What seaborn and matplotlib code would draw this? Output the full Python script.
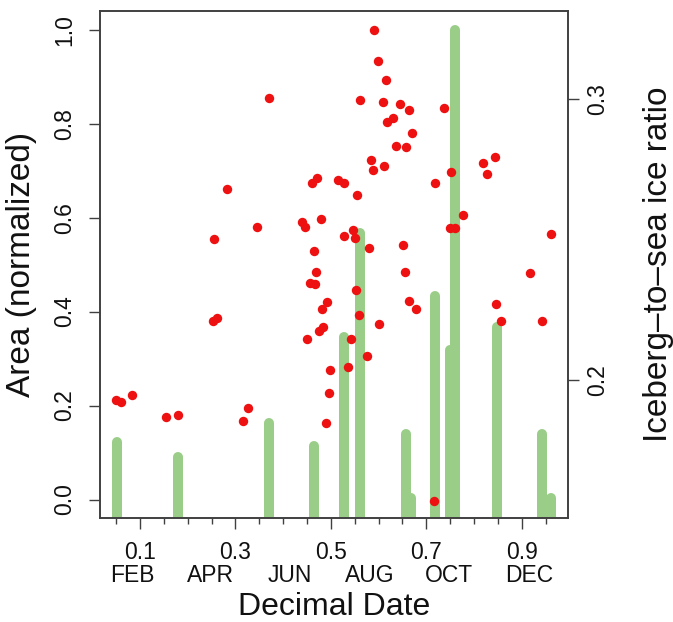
import numpy as np
import pandas as pd
import matplotlib
matplotlib.use("Agg")
import matplotlib.pyplot as plt
from matplotlib.ticker import FixedLocator
import seaborn as sns

# ---- data -------------------------------------------------------------
# green bars: normalized area (left axis)
bar_date = [0.0511, 0.179, 0.3704, 0.4648, 0.528, 0.5612, 0.657, 0.668,
            0.719, 0.750, 0.7604, 0.8478, 0.9434, 0.9616]
bar_area = [0.122, 0.090, 0.162, 0.113, 0.347, 0.567, 0.140, 0.004,
            0.433, 0.318, 1.0, 0.3675, 0.140, 0.004]

# red points: iceberg-to-sea ice ratio (right axis)
pt_date = [0.0497, 0.0595, 0.0832, 0.1539, 0.1790, 0.2558, 0.2537, 0.2608,
           0.2818, 0.3153, 0.3258, 0.3453, 0.3698, 0.4396, 0.4465, 0.4507,
           0.4612, 0.4704, 0.4654, 0.4683, 0.4564, 0.4669, 0.4788, 0.4822,
           0.4927, 0.4753, 0.4843, 0.4983, 0.4956, 0.4899, 0.5157, 0.5283,
           0.5283, 0.5459, 0.5501, 0.5549, 0.5602, 0.5906, 0.5985, 0.6153,
           0.6094, 0.6451, 0.6646, 0.6184, 0.6310, 0.6702, 0.6367, 0.6583,
           0.5849, 0.5885, 0.6122, 0.7174, 0.5795, 0.6514, 0.6545, 0.5528,
           0.6633, 0.6780, 0.5581, 0.6017, 0.5417, 0.5765, 0.5365, 0.7164,
           0.7373, 0.7514, 0.8197, 0.8281, 0.8442, 0.7765, 0.7499, 0.7598,
           0.9616, 0.9176, 0.8457, 0.8562, 0.9428]
pt_ratio = [0.1929, 0.1921, 0.1946, 0.1869, 0.1877, 0.2502, 0.2210, 0.2220,
            0.2681, 0.1853, 0.1899, 0.2544, 0.3002, 0.2561, 0.2546, 0.2145,
            0.2700, 0.2720, 0.2459, 0.2385, 0.2346, 0.2343, 0.2573, 0.2253,
            0.2279, 0.2175, 0.2190, 0.2037, 0.1953, 0.1847, 0.2712, 0.2700,
            0.2511, 0.2535, 0.2505, 0.2657, 0.2995, 0.3246, 0.3136, 0.3067,
            0.2988, 0.2981, 0.2960, 0.2918, 0.2931, 0.2880, 0.2834, 0.2830,
            0.2783, 0.2746, 0.2760, 0.2702, 0.2470, 0.2481, 0.2383, 0.2321,
            0.2280, 0.2254, 0.2231, 0.2198, 0.2145, 0.2084, 0.2047, 0.1569,
            0.2967, 0.2741, 0.2773, 0.2732, 0.2795, 0.2587, 0.2541, 0.2541,
            0.2519, 0.2381, 0.2270, 0.2211, 0.2211]

x_major = [0.1, 0.3, 0.5, 0.7, 0.9]
x_major_labels = ["0.1", "0.3", "0.5", "0.7", "0.9"]
x_minor = [0.05, 0.15, 0.2, 0.25, 0.35, 0.4, 0.45, 0.55, 0.6, 0.65,
           0.75, 0.8, 0.85, 0.95]
month_names = ["FEB", "APR", "JUN", "AUG", "OCT", "DEC"]
month_first_day = [31, 90, 151, 212, 273, 334]   # day of year of the 1st

left_ticks = [0.0, 0.2, 0.4, 0.6, 0.8, 1.0]
right_ticks = [0.2, 0.3]

bars = pd.DataFrame({"date": bar_date, "area": bar_area})
pts = pd.DataFrame({"date": pt_date, "ratio": pt_ratio})

# ---- style ------------------------------------------------------------
sns.set_style("ticks")
plt.rcParams["font.family"] = ["Liberation Sans", "DejaVu Sans"]

W, H, DPI = 673, 622, 100
fig = plt.figure(figsize=(W / DPI, H / DPI), dpi=DPI)
ax = fig.add_axes([100 / W, 1 - 518.3 / H, 468 / W, 507.3 / H])

GREEN = "#9acd88"
RED = "#ee1111"
FRAME = "#404040"
TXT = "#111111"

ax.vlines(bars["date"], -0.2, bars["area"], colors=GREEN, linewidth=7.2,
          capstyle="round", zorder=2)
ax.set_xlim(0.0161, 0.997)
ax.set_ylim(-0.04, 1.04)

ax2 = ax.twinx()
sns.scatterplot(data=pts, x="date", y="ratio", ax=ax2, color=RED, s=46,
                linewidth=0, zorder=3, legend=False)
ax2.set_ylim(0.1508, 0.3313)
ax2.set_xlim(0.0161, 0.997)

for a in (ax, ax2):
    for sp in a.spines.values():
        sp.set_visible(True)
        sp.set_color(FRAME)
        sp.set_linewidth(1.2)

# left axis
ax.yaxis.set_major_locator(FixedLocator(left_ticks))
ax.set_yticklabels([f"{v:.1f}" for v in left_ticks])
ax.tick_params(axis="y", length=8, width=1, color=FRAME, pad=9,
               labelsize=16.5, labelcolor=TXT)
for lab in ax.get_yticklabels():
    lab.set_rotation(90)
    lab.set_va("center")

# right axis
ax2.yaxis.set_major_locator(FixedLocator(right_ticks))
ax2.set_yticklabels([f"{v:.1f}" for v in right_ticks])
ax2.tick_params(axis="y", length=8, width=1, color=FRAME, pad=5,
                labelsize=16.5, labelcolor=TXT)
for lab in ax2.get_yticklabels():
    lab.set_rotation(90)
    lab.set_va("center")

# bottom axis
ax.xaxis.set_major_locator(FixedLocator(x_major))
ax.xaxis.set_minor_locator(FixedLocator(x_minor))
ax.set_xticklabels(x_major_labels)
ax.tick_params(axis="x", which="major", length=8, width=1, color=FRAME,
               pad=8, labelsize=16.5, labelcolor=TXT)
ax.tick_params(axis="x", which="minor", length=4, width=1, color=FRAME,
               bottom=True)

for name, d in zip(month_names, month_first_day):
    ax.text(d / 365, -0.090, name, transform=ax.get_xaxis_transform(),
            ha="center", va="top", fontsize=16.5, color=TXT)

ax.set_xlabel("Decimal Date", fontsize=23, color=TXT)
ax.xaxis.set_label_coords(0.5, -0.146)
ax.set_ylabel("Area (normalized)", fontsize=24, color=TXT)
ax.yaxis.set_label_coords(-0.135, 0.5)
ax2.set_ylabel("Iceberg\u2013to\u2013sea ice ratio", fontsize=24,
               color=TXT, rotation=90)
ax2.yaxis.set_label_coords(1.16, 0.5)

fig.savefig("out.png", dpi=DPI)
